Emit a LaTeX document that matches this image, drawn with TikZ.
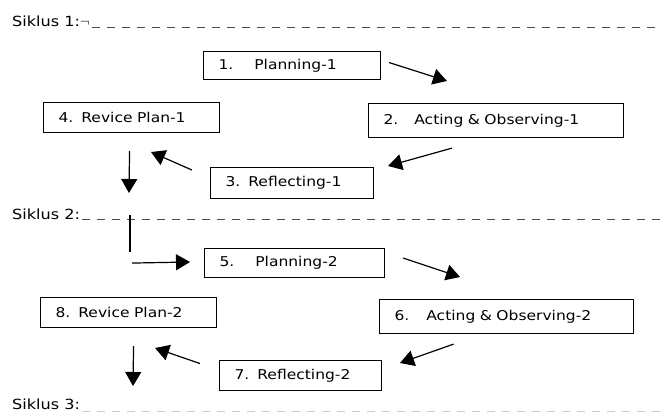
\documentclass[tikz,border=0pt]{standalone}
\usepackage{fontspec}
\setmainfont{DejaVu Sans}[FakeStretch=1.15]
\usetikzlibrary{arrows.meta}

\tikzset{
    box/.style={draw, line width=1.1pt, anchor=north west, inner xsep=15pt,
        align=left, font=\fontsize{13.5}{15}\selectfont},
    arr/.style={line width=1.2pt, -{Triangle[length=14pt,width=16pt]}},
    sep/.style={line width=0.8pt, gray!60!black, dash pattern=on 8pt off 7pt},
    cyc/.style={anchor=base west, inner xsep=2pt, font=\fontsize{14}{16}\selectfont}
}

\begin{document}
\begin{tikzpicture}[x=1pt,y=-1pt]
    \useasboundingbox (0,0) rectangle (660,412);

    % cycle headings
    \node[cyc] (s1) at (10,27) {Siklus 1:$\neg$};
    \node[cyc] (s2) at (10,219) {Siklus 2:};
    \node[cyc] (s3) at (10,409) {Siklus 3:};
    \draw[sep] (s1.base east) -- (660,27);
    \draw[sep] (s2.base east) -- (660,219);
    \draw[sep, gray!40] (s3.base east) ++(0,2) -- (660,411);

    % cycle 1
    \node[box, text width=147pt, minimum height=28pt] (b1) at (203,51) {1.\hspace{21pt}Planning-1};
    \node[box, text width=225pt, minimum height=34pt] (b2) at (368,103) {2.\hspace{16pt}Acting \& Observing-1};
    \node[box, text width=133pt, minimum height=31pt] (b3) at (210,167) {3.\hspace{8pt}Reflecting-1};
    \node[box, text width=146pt, minimum height=30pt] (b4) at (43,102) {4.\hspace{8pt}Revice Plan-1};

    % cycle 2
    \node[box, text width=150pt, minimum height=29pt] (b5) at (204,248) {5.\hspace{21pt}Planning-2};
    \node[box, text width=224pt, minimum height=34pt] (b6) at (379,299) {6.\hspace{17pt}Acting \& Observing-2};
    \node[box, text width=132pt, minimum height=30pt] (b7) at (219,360) {7.\hspace{8pt}Reflecting-2};
    \node[box, text width=146pt, minimum height=30pt] (b8) at (40,297) {8.\hspace{8pt}Revice Plan-2};

    % arrow ends
    \coordinate (t12) at (447,81);
    \coordinate (t23) at (388,166);
    \coordinate (t34) at (151,152);
    \coordinate (t41) at (129,193);
    \coordinate (t25) at (190,262);
    \coordinate (t56) at (460,277);
    \coordinate (t67) at (400,363);
    \coordinate (t78) at (155,348);
    \coordinate (t83) at (133,386);

    \draw[arr] ([shift={(8,-3)}]b1.east) -- (t12);
    \draw[arr] ([shift={(-44,10)}]b2.south) -- (t23);
    \draw[arr] ([shift={(-18,-13)}]b3.west) -- (t34);
    \draw[arr] ([shift={(-2,18)}]b4.south) -- (t41);
    \draw[line width=1.2pt] (s2.base east -| t41) ++(1,-4) -- ++(0,37);
    \draw[arr] ([shift={(-72,0)}]b5.west) -- (t25);
    \draw[arr] ([shift={(18,-5)}]b5.east) -- (t56);
    \draw[arr] ([shift={(-53,10)}]b6.south) -- (t67);
    \draw[arr] ([shift={(-19,-12)}]b7.west) -- (t78);
    \draw[arr] ([shift={(5,18)}]b8.south) -- (t83);
\end{tikzpicture}
\end{document}
